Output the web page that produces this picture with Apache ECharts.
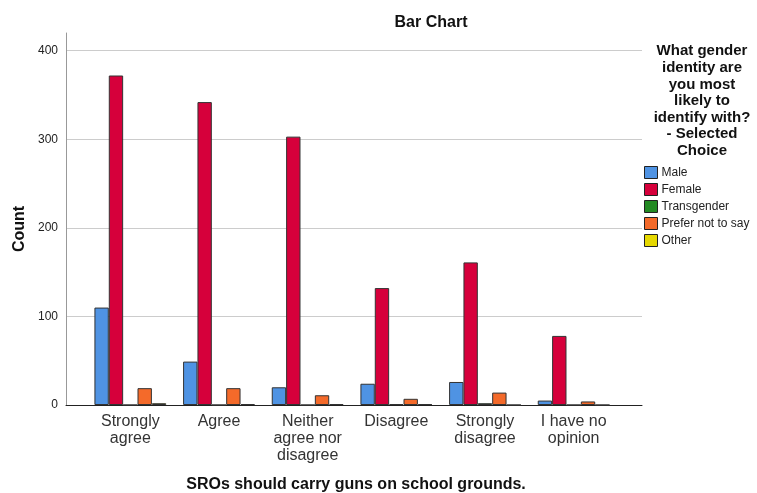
<!DOCTYPE html>
<html><head><meta charset="utf-8">
<script src="https://cdn.jsdelivr.net/npm/echarts@6/dist/echarts.min.js"></script>
<style>html,body{margin:0;padding:0;background:#fff}#c{width:757px;height:493px}</style>
</head><body><div id="c"></div>
<script>
const categories = ['Strongly\nagree', 'Agree', 'Neither\nagree nor\ndisagree', 'Disagree', 'Strongly\ndisagree', 'I have no\nopinion'];
const male = [110, 49, 20, 24, 26, 5];
const female = [372, 342, 303, 132, 161, 78];
const transgender = [0, 0, 0, 1, 2, 0];
const preferNot = [19, 19, 11, 7, 14, 4];
const other = [2, 1, 1, 1, 0, 0];
const seriesNames = ['Male', 'Female', 'Transgender', 'Prefer not to say', 'Other'];
const seriesColors = ['#4f93e3', '#d6003b', '#238a23', '#f46a2a', '#e6d800'];
const yTicks = [0, 100, 200, 300, 400];

const chart = echarts.init(document.getElementById('c'), null, {renderer: 'canvas'});
const font = 'Arial, "Liberation Sans", sans-serif';
const data = [male, female, transgender, preferNot, other];
chart.setOption({
  animation: false,
  textStyle: {fontFamily: font},
  title: [
    {text: 'Bar Chart', left: 426, top: 10, textAlign: 'center',
     textStyle: {fontSize: 16, fontWeight: 'bold', color: '#111', fontFamily: font}},
    {text: 'What gender\nidentity are\nyou most\nlikely to\nidentify with?\n- Selected\nChoice', left: 697, top: 38, textAlign: 'center',
     textStyle: {fontSize: 15, fontWeight: 'bold', color: '#111', lineHeight: 16.6, fontFamily: font}}
  ],
  graphic: [
    {type: 'text', x: 20, y: 229, rotation: Math.PI / 2,
     style: {text: 'Count', fontSize: 16, fontWeight: 'bold', fill: '#111', fontFamily: font,
             align: 'center', verticalAlign: 'middle'}},
    {type: 'text', x: 356, y: 485,
     style: {text: 'SROs should carry guns on school grounds.', fontSize: 16, fontWeight: 'bold', fill: '#111', fontFamily: font,
             align: 'center', verticalAlign: 'middle'}}
  ],
  legend: {
    orient: 'vertical', left: 644, top: 166, padding: 0, itemWidth: 13, itemHeight: 12, itemGap: 4,
    icon: 'rect', data: seriesNames,
    textStyle: {fontSize: 12, color: '#222', padding: [0, 0, 0, -1], lineHeight: 13, fontFamily: font},
    itemStyle: {borderColor: '#222', borderWidth: 1}
  },
  grid: [
    {left: 66, right: 115, top: 33, bottom: 88, outerBoundsMode: 'none'},
    {left: 86, right: 139, top: 33, bottom: 88, outerBoundsMode: 'none'}
  ],
  xAxis: [
    {type: 'category', gridIndex: 0, data: [''], axisTick: {show: false}, axisLabel: {show: false},
     axisLine: {lineStyle: {color: '#222', width: 1}}},
    {type: 'category', gridIndex: 1, data: categories, axisTick: {show: false}, axisLine: {show: false},
     axisLabel: {fontSize: 16, color: '#333', lineHeight: 17, margin: 8, interval: 0, fontFamily: font}}
  ],
  yAxis: [
    {type: 'value', gridIndex: 0, min: 0, max: 420, interval: 100,
     axisLine: {show: true, lineStyle: {color: '#999', width: 1}}, axisTick: {show: false},
     axisLabel: {fontSize: 12, color: '#222', margin: 8, showMaxLabel: false,
       formatter: v => yTicks.includes(v) ? String(v) : ''},
     splitLine: {show: true, showMaxLine: false, lineStyle: {color: '#ccc', width: 1}}},
    {type: 'value', gridIndex: 1, min: 0, max: 420, show: false, splitLine: {show: false}}
  ],
  series: seriesNames.map((n, i) => ({
    name: n, type: 'bar', xAxisIndex: 1, yAxisIndex: 1, data: data[i],
    barGap: '0%', barCategoryGap: '19%',
    itemStyle: {color: seriesColors[i], borderColor: '#333', borderWidth: 1}
  }))
});
</script></body></html>
